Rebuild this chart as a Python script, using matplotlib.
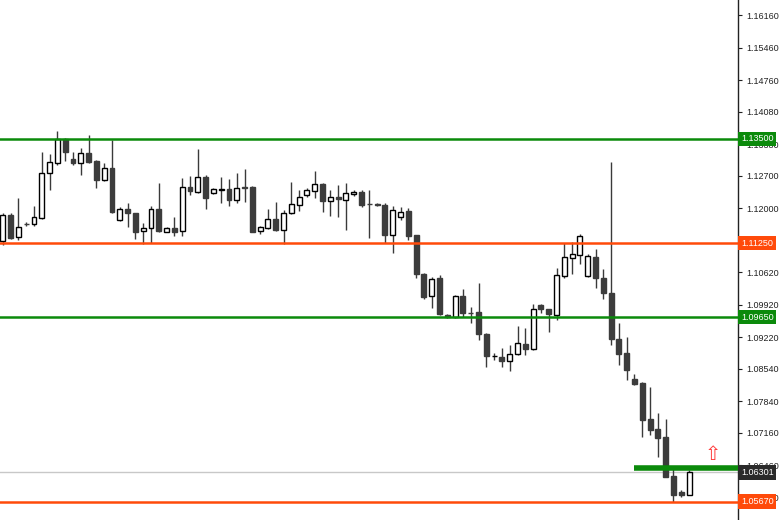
import matplotlib
matplotlib.use("Agg")
import matplotlib.pyplot as plt
import matplotlib.transforms as mtransforms

# candle data (oldest -> newest)
opens = [1.11300, 1.11855, 1.11374, 1.11661, 1.11654, 1.11797, 1.12755, 1.12983, 1.13488, 1.13057,
         1.12970, 1.13186, 1.13020, 1.12610, 1.12863, 1.11747, 1.11984, 1.11892, 1.11510, 1.11568,
         1.11978, 1.11495, 1.11581, 1.11503, 1.12466, 1.12362, 1.12681, 1.12336, 1.12405, 1.12409,
         1.12179, 1.12466, 1.12466, 1.11516, 1.11581, 1.11769, 1.11531, 1.11892, 1.12071, 1.12286,
         1.12379, 1.12517, 1.12163, 1.12237, 1.12179, 1.12302, 1.12345, 1.12092, 1.12086, 1.12071,
         1.11413, 1.11818, 1.11948, 1.11423, 1.10582, 1.10107, 1.10489, 1.09691, 1.09648, 1.10107,
         1.09751, 1.09755, 1.09287, 1.08806, 1.08784, 1.08711, 1.08849, 1.09072, 1.08957, 1.09913,
         1.09820, 1.09708, 1.10545, 1.10921, 1.10992, 1.10539, 1.10955, 1.10502, 1.10178, 1.09179,
         1.08871, 1.08310, 1.08236, 1.07447, 1.07231, 1.07058, 1.06223, 1.05885, 1.05813]
highs = [1.11898, 1.11898, 1.12215, 1.11704, 1.12049, 1.13221, 1.13165, 1.13667, 1.13510, 1.13221,
         1.13294, 1.13581, 1.13042, 1.12970, 1.13473, 1.12021, 1.12107, 1.11898, 1.11676, 1.12049,
         1.12539, 1.11603, 1.11818, 1.12647, 1.12696, 1.13273, 1.12718, 1.12431, 1.12681, 1.12625,
         1.12755, 1.12841, 1.12481, 1.11618, 1.11984, 1.12142, 1.11963, 1.12573, 1.12394, 1.12444,
         1.12811, 1.12539, 1.12394, 1.12502, 1.12539, 1.12394, 1.12394, 1.12394, 1.12114, 1.12107,
         1.12049, 1.12021, 1.11999, 1.11423, 1.10610, 1.10511, 1.10560, 1.09719, 1.10129, 1.10258,
         1.09863, 1.10381, 1.09302, 1.08871, 1.08979, 1.09050, 1.09460, 1.09417, 1.09928, 1.09934,
         1.09826, 1.10705, 1.11244, 1.11279, 1.11438, 1.11007, 1.11115, 1.10690, 1.12992, 1.09531,
         1.09229, 1.08418, 1.08258, 1.08150, 1.07589, 1.07447, 1.06402, 1.05921, 1.06353]
lows = [1.11208, 1.11337, 1.11316, 1.11618, 1.11618, 1.11762, 1.12394, 1.12934, 1.13027, 1.12934,
        1.12718, 1.12983, 1.12444, 1.12589, 1.11892, 1.11732, 1.11590, 1.11331, 1.11229, 1.11257,
        1.11495, 1.11482, 1.11402, 1.11402, 1.12286, 1.12323, 1.11978, 1.12302, 1.12107, 1.12049,
        1.12120, 1.12142, 1.11495, 1.11445, 1.11546, 1.11510, 1.11229, 1.11877, 1.11941, 1.12237,
        1.12215, 1.11926, 1.11833, 1.11818, 1.11531, 1.12265, 1.12034, 1.11365, 1.12049, 1.11251,
        1.11029, 1.11747, 1.11316, 1.10489, 1.10036, 1.09842, 1.09697, 1.09632, 1.09626, 1.09661,
        1.09531, 1.09158, 1.08582, 1.08726, 1.08582, 1.08495, 1.08834, 1.08828, 1.08942, 1.09747,
        1.09337, 1.09589, 1.10489, 1.10582, 1.10798, 1.10524, 1.10273, 1.10036, 1.09050, 1.08625,
        1.08295, 1.08187, 1.07071, 1.07108, 1.06640, 1.06195, 1.05656, 1.05770, 1.05813]
closes = [1.11855, 1.11352, 1.11590, 1.11650, 1.11818, 1.12768, 1.12992, 1.13488, 1.13208, 1.12983,
          1.13186, 1.13005, 1.12610, 1.12863, 1.11913, 1.11984, 1.11892, 1.11495, 1.11568, 1.11978,
          1.11510, 1.11581, 1.11495, 1.12466, 1.12379, 1.12675, 1.12215, 1.12409, 1.12409, 1.12179,
          1.12444, 1.12444, 1.11495, 1.11590, 1.11769, 1.11531, 1.11905, 1.12092, 1.12237, 1.12394,
          1.12517, 1.12163, 1.12237, 1.12194, 1.12336, 1.12345, 1.12071, 1.12086, 1.12077, 1.11413,
          1.11963, 1.11926, 1.11408, 1.10575, 1.10092, 1.10467, 1.09712, 1.09648, 1.10107, 1.09747,
          1.09740, 1.09287, 1.08819, 1.08813, 1.08711, 1.08849, 1.09100, 1.08970, 1.09820, 1.09820,
          1.09712, 1.10560, 1.10942, 1.11007, 1.11402, 1.10970, 1.10489, 1.10165, 1.09179, 1.08866,
          1.08511, 1.08208, 1.07432, 1.07216, 1.07050, 1.06208, 1.05813, 1.05813, 1.06301]

# price axis ticks (1.11300 sits under the 1.11250 box, so no label there)
tick_values = [1.16160, 1.15460, 1.14760, 1.14080, 1.13380, 1.12700, 1.12000, 1.11300,
               1.10620, 1.09920, 1.09220, 1.08540, 1.07840, 1.07160, 1.06460, 1.05760]
tick_labels = ["1.16160", "1.15460", "1.14760", "1.14080", "1.13380", "1.12700", "1.12000", "",
               "1.10620", "1.09920", "1.09220", "1.08540", "1.07840", "1.07160", "1.06460", "1.05760"]

# horizontal levels
green_levels = [1.13500, 1.09650]
orange_levels = [1.11250, 1.05670]
last_price = 1.06301
signal_level = 1.06402
signal_start_bar = 81
arrow_bar = 91
arrow_price = 1.06692

GREEN = "#0b8a0b"
ORANGE = "#ff4a0a"
BEAR = "#3c3c3c"


def price_box(ax, price, text, bg):
    trans = mtransforms.blended_transform_factory(ax.transAxes, ax.transData)
    ax.text(1.004, price, text, transform=trans, ha="left", va="center",
            fontsize=6.5, color="white", family="Liberation Sans",
            bbox=dict(boxstyle="square,pad=0.3", fc=bg, ec="none"),
            clip_on=False, zorder=20)


def draw_candles(ax):
    for i in range(len(opens)):
        o, h, l, c = opens[i], highs[i], lows[i], closes[i]
        ax.vlines(i, l, h, color="#3a3a3a", lw=1, zorder=3)
        bottom = min(o, c)
        height = max(abs(c - o), 0.00003)
        if c >= o:
            ax.bar(i, height, bottom=bottom, width=0.62, color="white",
                   edgecolor="black", lw=1, zorder=4)
        else:
            ax.bar(i, height, bottom=bottom, width=0.62, color=BEAR,
                   edgecolor=BEAR, lw=1, zorder=4)


def main():
    fig = plt.figure(figsize=(7.8, 5.2), dpi=100)
    ax = fig.add_axes([0, 0, 738 / 780, 1])

    draw_candles(ax)

    for lv in green_levels:
        ax.axhline(lv, color=GREEN, lw=1.8, zorder=5)
    for lv in orange_levels:
        ax.axhline(lv, color=ORANGE, lw=1.8, zorder=5)
    ax.axhline(last_price, color="#c8c8c8", lw=1, zorder=1)
    ax.hlines(signal_level, signal_start_bar, 95, color=GREEN, lw=4, zorder=6)
    ax.text(arrow_bar, arrow_price, "\u21e7", color="#ff3a3a", fontsize=14,
            ha="center", va="center", zorder=7)

    ax.set_xlim(-0.35, 94.27)
    ax.set_ylim(1.05274, 1.16494)

    ax.yaxis.tick_right()
    ax.set_yticks(tick_values)
    ax.set_yticklabels(tick_labels)
    ax.tick_params(axis="y", length=3, width=0.8, pad=3, labelsize=6.5,
                   colors="#222222")
    for lab in ax.get_yticklabels():
        lab.set_family("Liberation Sans")
    ax.set_xticks([])
    for s in ["top", "left", "bottom"]:
        ax.spines[s].set_visible(False)
    ax.spines["right"].set_color("#222222")
    ax.spines["right"].set_linewidth(1)

    price_box(ax, 1.13500, "1.13500", GREEN)
    price_box(ax, 1.11250, "1.11250", ORANGE)
    price_box(ax, 1.09650, "1.09650", GREEN)
    price_box(ax, last_price, "1.06301", "#2a2a2a")
    price_box(ax, 1.05670, "1.05670", ORANGE)

    fig.savefig("out.png", dpi=100, facecolor="white")


if __name__ == "__main__":
    main()
